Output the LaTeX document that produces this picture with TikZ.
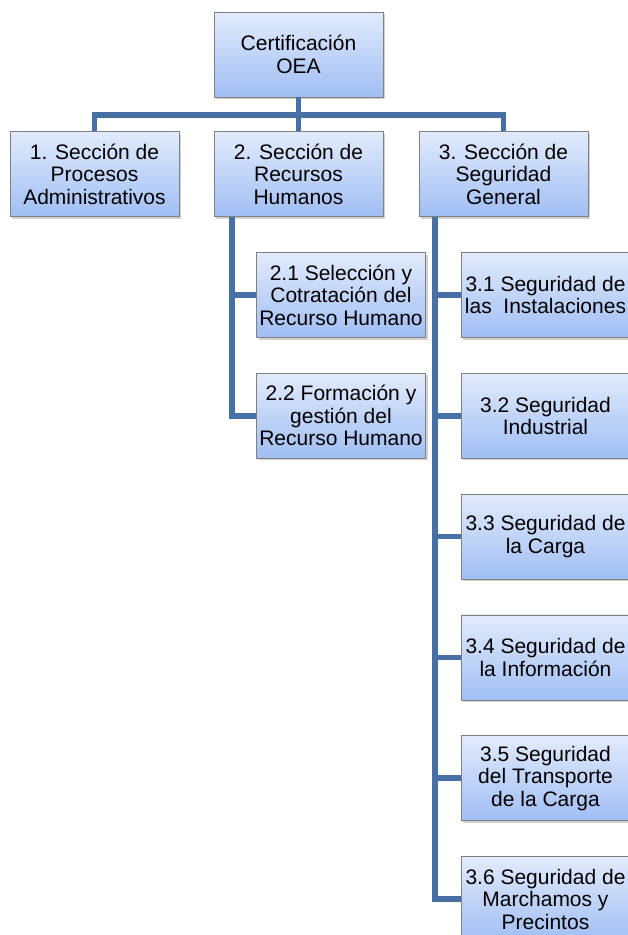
\documentclass[tikz,border=0pt]{standalone}
\usepackage{fontspec}
\setmainfont{Liberation Sans}
\usepackage{xcolor}
\usepackage{tikz}
\usetikzlibrary{positioning, shadows, calc}
\definecolor{linkblue}{RGB}{70,112,166}
\definecolor{boxtop}{RGB}{226,235,252}
\definecolor{boxbottom}{RGB}{160,190,244}
\definecolor{boxedge}{RGB}{128,128,128}

\tikzset{
    orgbox/.style={draw=boxedge, line width=0.8pt, top color=boxtop, bottom color=boxbottom,
        minimum width=169pt, minimum height=85pt, inner sep=0pt, align=center,
        font=\fontsize{21}{22.5}\selectfont,
        drop shadow={shadow xshift=2pt, shadow yshift=-2pt, fill=black!40, opacity=.45}},
    link/.style={linkblue, line width=5.5pt}
}

\begin{document}
\begin{tikzpicture}[x=1pt, y=-1pt]
    \useasboundingbox (0,0) rectangle (627,935);

    % Top level
    \node[orgbox] (top) at (298.5,54.5) {Certificación\\OEA};

    % Sections
    \node[orgbox] (s1) at (94.5,174) {1. Sección de\\Procesos\\Administrativos};
    \node[orgbox] (s2) at (298.5,174) {2. Sección de\\Recursos\\Humanos};
    \node[orgbox] (s3) at (503.5,174) {3. Sección de\\Seguridad\\General};

    % Sub-sections of 2
    \node[orgbox] (s21) at (341,295) {2.1 Selección y\\Cotratación del\\Recurso Humano};
    \node[orgbox, below=35pt of s21] (s22) {2.2 Formación y\\gestión del\\Recurso Humano};

    % Sub-sections of 3
    \node[orgbox] (s31) at (545.5,295) {3.1 Seguridad de\\las\ \ Instalaciones};
    \node[orgbox, below=35pt of s31] (s32) {3.2 Seguridad\\Industrial};
    \node[orgbox, below=35pt of s32] (s33) {3.3 Seguridad de\\la Carga};
    \node[orgbox, below=35pt of s33] (s34) {3.4 Seguridad de\\la Información};
    \node[orgbox, below=35pt of s34] (s35) {3.5 Seguridad\\del Transporte\\de la Carga};
    \node[orgbox, below=35pt of s35] (s36) {3.6 Seguridad de\\Marchamos y\\Precintos};

    % Connectors
    \coordinate (bar) at (298.5,115);
    \draw[link] (top.south) -- (s2.north);
    \draw[link] (s1.north) -- (s1.north |- bar) -- (s3.north |- bar) -- (s3.north);
    \coordinate (v2) at ($(s2.south)+(-66.5,0)$);
    \draw[link] (v2) |- (s21.west);
    \draw[link] (v2) |- (s22.west);
    \coordinate (v3) at ($(s3.south)+(-68.5,0)$);
    \foreach \k in {1,...,6}
        \draw[link] (v3) |- (s3\k.west);
\end{tikzpicture}
\end{document}
